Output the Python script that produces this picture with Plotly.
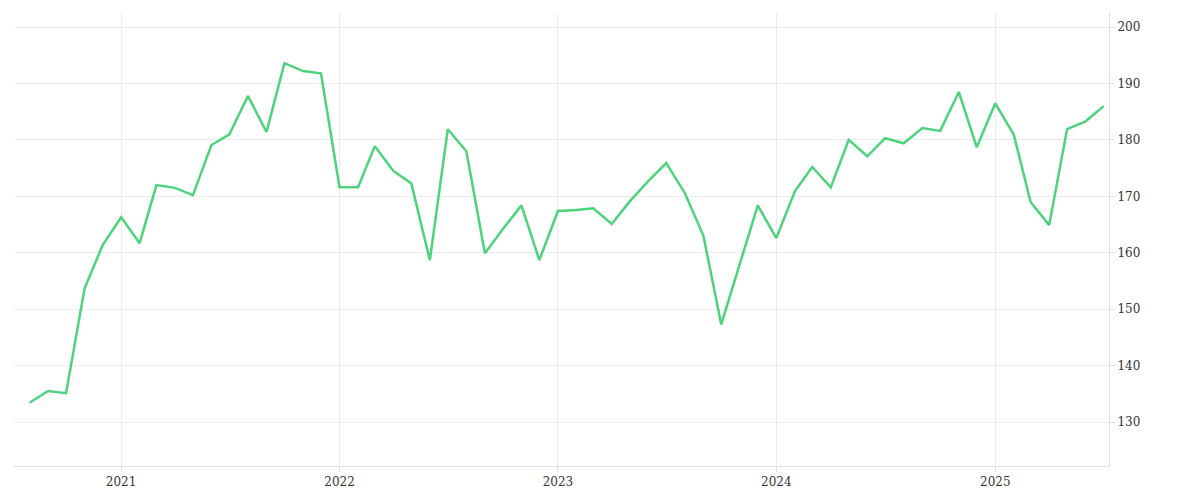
import plotly.graph_objects as go
import pandas as pd

dates = pd.date_range("2020-08-01", periods=60, freq="MS")
values = [133.4,135.5,135.1,153.7,161.3,166.3,161.7,172.0,171.5,170.2,179.1,181.0,187.8,181.4,193.6,192.2,191.8,
          171.6,171.6,178.9,174.5,172.3,158.7,181.9,178.0,159.9,164.2,168.4,158.7,
          167.4,167.6,167.9,165.1,169.1,172.7,175.9,170.6,163.1,147.3,158.0,168.4,
          162.6,170.9,175.2,171.6,180.0,177.1,180.3,179.4,182.1,181.6,188.5,178.7,
          186.5,180.9,169.0,164.9,181.9,183.3,186.0]
yticks = [130,140,150,160,170,180,190,200]
xticks = ["2021-01-01","2022-01-01","2023-01-01","2024-01-01","2025-01-01"]
xlabels = ["2021","2022","2023","2024","2025"]

fig = go.Figure(go.Scatter(x=dates, y=values, mode="lines",
                           line=dict(color="#4ed37c", width=2.5)))
fig.update_layout(
    width=1200, height=500, paper_bgcolor="white", plot_bgcolor="white",
    margin=dict(l=6, r=99, t=5, b=42), showlegend=False,
    font=dict(family="DejaVu Serif", size=12, color="#333"),
)
fig.update_xaxes(range=["2020-07-06","2025-07-10"], tickvals=xticks, ticktext=xlabels,
                 showgrid=True, gridcolor="#ececec", showline=True, linecolor="#e0e0e0",
                 ticks="outside", tickcolor="#e0e0e0", ticklen=5, zeroline=False)
fig.update_yaxes(range=[122.2, 202.5], tickvals=yticks, side="right",
                 showgrid=True, gridcolor="#ececec", showline=True, linecolor="#e0e0e0",
                 ticks="outside", tickcolor="#e0e0e0", ticklen=5, zeroline=False)
fig.write_html("out.html")
